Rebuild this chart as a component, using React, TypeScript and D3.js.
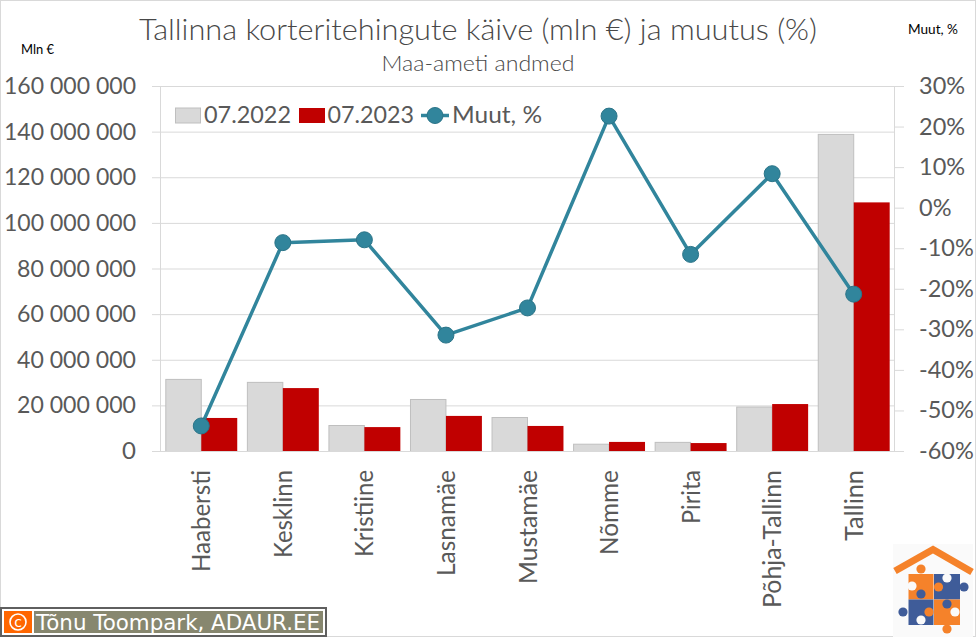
import React from "react";
import * as d3 from "d3";

const categories = ["Haabersti", "Kesklinn", "Kristiine", "Lasnamäe", "Mustamäe", "Nõmme", "Pirita", "Põhja-Tallinn", "Tallinn"];
const values2022 = [31.6e6, 30.3e6, 11.4e6, 22.8e6, 14.9e6, 3.2e6, 4.0e6, 19.5e6, 139e6];
const values2023 = [14.7e6, 27.8e6, 10.7e6, 15.6e6, 11.2e6, 4.2e6, 3.7e6, 20.8e6, 109.2e6];
const change = [-53.7, -8.5, -7.8, -31.3, -24.6, 22.7, -11.4, 8.5, -21.2];
const leftTicks = [0, 20e6, 40e6, 60e6, 80e6, 100e6, 120e6, 140e6, 160e6];
const rightTicks = [-60, -50, -40, -30, -20, -10, 0, 10, 20, 30];
const seriesNames = ["07.2022", "07.2023"];
const labelLengths = [102, 88, 87, 106, 114, 85, 54, 138, 71];

const W = 976, H = 637;
const TOP = 86.5, BOTTOM = 451.5, LEFT = 160.5, RIGHT = 894.5;
const GRID = "#d9d9d9", TEXT = "#595959", TEAL = "#31859c", RED = "#c00000", GRAY = "#d9d9d9";
const FONT = "Lato, 'Open Sans', sans-serif";

const x = d3.scaleBand<string>().domain(categories).range([LEFT, RIGHT]).paddingInner(0.118).paddingOuter(0.059);
const inner = d3.scaleBand<string>().domain(seriesNames).range([0, x.bandwidth()]);
const y = d3.scaleLinear().domain([0, 160e6]).range([BOTTOM, TOP]);
const y2 = d3.scaleLinear().domain([-60, 30]).range([BOTTOM, TOP]);
const fmt = (v: number) => String(v).replace(/\B(?=(\d{3})+$)/g, " ");
const cx = (c: string) => (x(c) as number) + x.bandwidth() / 2;
const linePath = d3.line<number>().x((_, i) => cx(categories[i])).y((d) => y2(d))(change) as string;

const ORANGE = "#f5822a", BLUE = "#3f5c99", PAPER = "#fafafa";
const logoSquares: [number, number, number, number, string][] = [
  [908.5, 574, 25, 25.5, ORANGE],
  [934, 574, 26, 25.5, BLUE],
  [908.5, 599.5, 25, 25.5, BLUE],
  [934, 599.5, 26, 25.5, ORANGE],
];
const logoKnobs: [number, number, string][] = [
  [921, 569, ORANGE], [912, 586, PAPER], [938.5, 587, ORANGE], [964, 587, BLUE], [947, 578, PAPER],
  [921, 594, BLUE], [903, 612, BLUE], [929, 612, ORANGE], [921, 620, PAPER], [947, 604, BLUE],
  [955, 612, PAPER], [947, 629, ORANGE],
];

export default function App() {
  return (
    <svg width={W} height={H} viewBox={`0 0 ${W} ${H}`} style={{ position: "absolute", left: 0, top: 0, background: "#fff" }} fontFamily={FONT}>
      <rect x={0.5} y={0.5} width={W - 1} height={H - 1} fill="#fff" stroke="#d9d9d9" />
      <text x={478} y={39.5} textAnchor="middle" fontSize={30} fontWeight={300} fill="#484848" textLength={678} lengthAdjust="spacingAndGlyphs">Tallinna korteritehingute käive (mln €) ja muutus (%)</text>
      <text x={478} y={70.5} textAnchor="middle" fontSize={21} fontWeight={300} fill="#484848" textLength={193} lengthAdjust="spacingAndGlyphs">Maa-ameti andmed</text>
      <text x={21} y={54} fontSize={12.5} fill="#000" textLength={33} lengthAdjust="spacingAndGlyphs">Mln €</text>
      <text x={908} y={34} fontSize={12.5} fill="#000" textLength={50} lengthAdjust="spacingAndGlyphs">Muut, %</text>

      {leftTicks.map((t) => (
        <g key={t}>
          <line x1={152} x2={t === 160e6 ? 904 : RIGHT} y1={y(t)} y2={y(t)} stroke={GRID} strokeWidth={1} />
          <text x={136} y={y(t) + 7.5} textAnchor="end" fontSize={24} fill={TEXT} textLength={t === 0 ? undefined : (String(t).length === 9 ? 132 : 119)} lengthAdjust="spacingAndGlyphs">{fmt(t)}</text>
        </g>
      ))}
      <line x1={LEFT} x2={LEFT} y1={TOP} y2={BOTTOM} stroke={GRID} />
      <line x1={RIGHT} x2={RIGHT} y1={TOP} y2={BOTTOM} stroke={GRID} />
      {rightTicks.map((t) => (
        <g key={t}>
          <line x1={RIGHT} x2={904} y1={y2(t)} y2={y2(t)} stroke={GRID} />
          <text x={919} y={y2(t) + 7.5} fontSize={23.5} fill={TEXT}>{t}%</text>
        </g>
      ))}

      {categories.map((c, i) => (
        <g key={c} transform={`translate(${x(c)},0)`}>
          <rect x={(inner(seriesNames[0]) as number) + 0.5} y={y(values2022[i])} width={inner.bandwidth() - 0.5} height={BOTTOM - y(values2022[i])} fill={GRAY} stroke="#bfbfbf" strokeWidth={1} />
          <rect x={inner(seriesNames[1])} y={y(values2023[i])} width={inner.bandwidth()} height={BOTTOM - y(values2023[i])} fill={RED} />
        </g>
      ))}
      <line x1={152} x2={904} y1={BOTTOM} y2={BOTTOM} stroke={GRID} />

      <path d={linePath} fill="none" stroke={TEAL} strokeWidth={3.5} strokeLinejoin="round" />
      {change.map((v, i) => (
        <circle key={categories[i]} cx={cx(categories[i])} cy={y2(v)} r={8} fill={TEAL} stroke="#2b7488" strokeWidth={1} />
      ))}

      {categories.map((c, i) => (
        <text key={c} transform={`translate(${cx(c) + 9},470) rotate(-90)`} textAnchor="end" fontSize={24.5} fill={TEXT} textLength={labelLengths[i]} lengthAdjust="spacingAndGlyphs">{c}</text>
      ))}

      {/* legend */}
      <rect x={175.5} y={108} width={25} height={15} fill={GRAY} stroke="#bfbfbf" />
      <text x={204} y={123} fontSize={24} fill={TEXT} textLength={87} lengthAdjust="spacingAndGlyphs">{seriesNames[0]}</text>
      <rect x={299} y={108} width={26} height={15} fill={RED} />
      <text x={327.5} y={123} fontSize={24} fill={TEXT} textLength={86.5} lengthAdjust="spacingAndGlyphs">{seriesNames[1]}</text>
      <line x1={421} x2={449} y1={115.5} y2={115.5} stroke={TEAL} strokeWidth={3.5} />
      <circle cx={435} cy={115.5} r={8} fill={TEAL} stroke="#2b7488" />
      <text x={452} y={123} fontSize={24} fill={TEXT} textLength={90} lengthAdjust="spacingAndGlyphs">Muut, %</text>

      {/* logo */}
      <rect x={893} y={544} width={80} height={93} fill={PAPER} />
      <polyline points="895,571 933,549.5 972,572" fill="none" stroke={ORANGE} strokeWidth={7} />
      {logoSquares.map(([a, b, w, h, col], i) => <rect key={i} x={a} y={b} width={w} height={h} fill={col} />)}
      {logoKnobs.map(([a, b, col], i) => <circle key={i} cx={a} cy={b} r={4.6} fill={col} />)}

      {/* copyright */}
      <rect x={1} y={608} width={325} height={28} fill="#fff" stroke="#5f5f5f" strokeWidth={2} />
      <rect x={4} y={611} width={28} height={22} fill="#ff6600" />
      <rect x={34} y={611} width={289} height={22} fill="#87876f" />
      <circle cx={18} cy={622} r={8} fill="none" stroke="#fff" strokeWidth={1.6} />
      <text x={18} y={627} textAnchor="middle" fontFamily="DejaVu Sans" fontSize={14} fill="#fff">c</text>
      <text x={36} y={630} fontFamily="DejaVu Sans" fontSize={21} fill="#fff" textLength={284} lengthAdjust="spacingAndGlyphs">Tõnu Toompark, ADAUR.EE</text>
    </svg>
  );
}
